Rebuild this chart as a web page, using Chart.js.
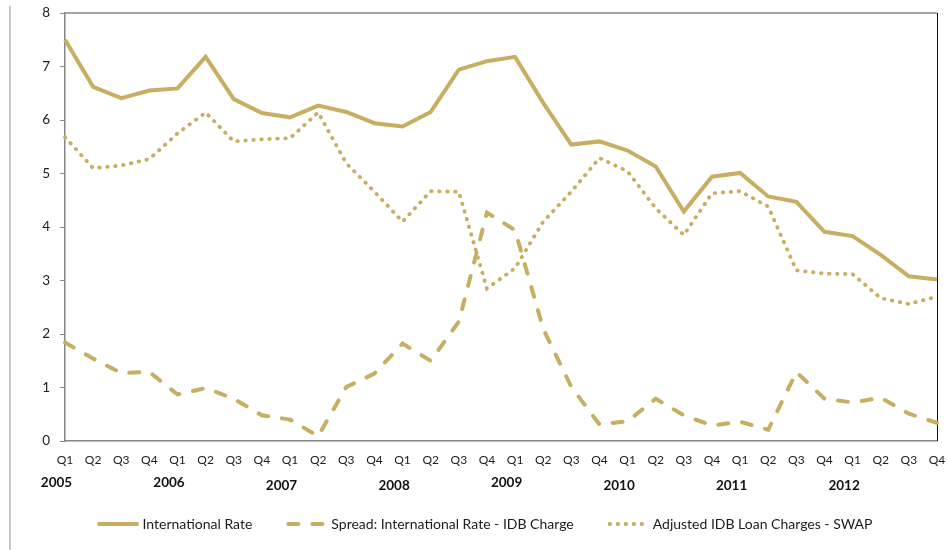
<!DOCTYPE html>
<html>
<head>
<meta charset="utf-8">
<script src="https://cdn.jsdelivr.net/npm/chart.js@4.4.1/dist/chart.umd.min.js"></script>
<style>
  html, body { margin: 0; padding: 0; background: #ffffff; }
  canvas { display: block; }
</style>
</head>
<body>
<canvas id="rates" width="947" height="550"></canvas>
<script>
// Quarterly rates, 2005 Q1 – 2012 Q4 (percent)
const years = ['2005', '2006', '2007', '2008', '2009', '2010', '2011', '2012'];
const quarterNames = ['Q1', 'Q2', 'Q3', 'Q4'];

const internationalRate = [
  7.50, 6.62, 6.41, 6.55, 6.59, 7.18, 6.39, 6.13,
  6.05, 6.27, 6.15, 5.94, 5.88, 6.15, 6.94, 7.10,
  7.18, 6.32, 5.54, 5.60, 5.43, 5.13, 4.29, 4.94,
  5.01, 4.57, 4.47, 3.91, 3.83, 3.48, 3.08, 3.02
];
const spreadIntlIdb = [
  1.84, 1.54, 1.27, 1.29, 0.87, 0.99, 0.79, 0.48,
  0.40, 0.09, 1.01, 1.26, 1.82, 1.50, 2.23, 4.27,
  3.94, 2.10, 1.01, 0.31, 0.37, 0.79, 0.48, 0.29,
  0.36, 0.21, 1.29, 0.79, 0.72, 0.81, 0.51, 0.34
];
const adjustedIdbSwap = [
  5.68, 5.10, 5.15, 5.27, 5.75, 6.14, 5.60, 5.64,
  5.66, 6.14, 5.19, 4.66, 4.10, 4.67, 4.66, 2.85,
  3.23, 4.10, 4.66, 5.29, 5.04, 4.35, 3.85, 4.63,
  4.67, 4.38, 3.19, 3.13, 3.12, 2.67, 2.56, 2.70
];
const seriesNames = [
  'International Rate',
  'Spread: International Rate - IDB Charge',
  'Adjusted IDB Loan Charges - SWAP'
];
const yMin = 0, yMax = 8, yStep = 1;

const categories = years.flatMap(() => quarterNames);

const GOLD = '#C8AE62';
const TEXT = '#1c1c1c';
const AXIS = '#868686';
const FONT = 'Lato, "Open Sans", sans-serif';

// Page frame line on the left and the top/right edges of the plot box
const frame = {
  id: 'frame',
  beforeDraw(chart) {
    const ctx = chart.ctx;
    ctx.save();
    ctx.strokeStyle = '#c6c6c6';
    ctx.lineWidth = 2;
    ctx.beginPath();
    ctx.moveTo(10, 6);
    ctx.lineTo(10, 550);
    ctx.stroke();
    ctx.restore();
  },
  beforeDatasetsDraw(chart) {
    const { ctx, chartArea: a } = chart;
    ctx.save();
    ctx.lineWidth = 1.5;
    ctx.strokeStyle = AXIS;
    ctx.beginPath();
    ctx.moveTo(a.left, a.top);
    ctx.lineTo(a.right, a.top);
    ctx.stroke();
    ctx.lineWidth = 1;
    ctx.strokeStyle = '#111111';
    ctx.beginPath();
    ctx.moveTo(a.right + 0.5, a.top);
    ctx.lineTo(a.right + 0.5, a.bottom);
    ctx.stroke();
    ctx.restore();
  }
};

// Year captions under the quarter labels
const yearCaptions = {
  id: 'yearCaptions',
  afterDraw(chart) {
    const { ctx, chartArea: a } = chart;
    const xs = chart.scales.x;
    const nudge = [42, 41.5, 45, 44.5, 41.5, 45, 45, 44.5];
    ctx.save();
    ctx.font = 'bold 13.5px ' + FONT;
    ctx.fillStyle = '#111111';
    ctx.textAlign = 'center';
    ctx.textBaseline = 'middle';
    years.forEach((yr, i) => {
      const x = xs.getPixelForValue(i * quarterNames.length) - 8.5;
      ctx.fillText(yr, x, a.bottom + nudge[i]);
    });
    ctx.restore();
  }
};

// Legend row with line samples taken from each dataset's style
const lineLegend = {
  id: 'lineLegend',
  afterDraw(chart) {
    const ctx = chart.ctx;
    const sampleW = 41, textGap = 4, itemGap = 34, y = 524, centerX = 485;
    ctx.save();
    ctx.font = '14px ' + FONT;
    const items = chart.data.datasets.map(ds => ({
      ds, w: sampleW + textGap + ctx.measureText(ds.label).width
    }));
    const total = items.reduce((s, it) => s + it.w, 0) + itemGap * (items.length - 1);
    let x = centerX - total / 2;
    items.forEach(({ ds, w }) => {
      ctx.save();
      ctx.strokeStyle = ds.borderColor;
      ctx.lineWidth = ds.borderWidth;
      ctx.lineCap = ds.borderCapStyle || 'butt';
      ctx.setLineDash(ds.borderDash || []);
      const inset = ctx.lineCap === 'round' ? ds.borderWidth / 2 : 0;
      ctx.beginPath();
      ctx.moveTo(x + inset, y);
      ctx.lineTo(x + sampleW - inset, y);
      ctx.stroke();
      ctx.restore();
      ctx.fillStyle = TEXT;
      ctx.textAlign = 'left';
      ctx.textBaseline = 'middle';
      ctx.fillText(ds.label, x + sampleW + textGap, y);
      x += w + itemGap;
    });
    ctx.restore();
  }
};

// Let the layout padding alone decide where the plot box sits
function noScalePadding(scale) {
  scale.paddingLeft = 0;
  scale.paddingRight = 0;
  scale.paddingTop = 0;
  scale.paddingBottom = 0;
}

const lineStyle = {
  borderColor: GOLD,
  backgroundColor: GOLD,
  borderWidth: 4,
  pointRadius: 0,
  pointHoverRadius: 0,
  tension: 0,
  fill: false
};

new Chart(document.getElementById('rates'), {
  type: 'line',
  data: {
    labels: categories,
    datasets: [
      { ...lineStyle, label: seriesNames[0], data: internationalRate, borderCapStyle: 'butt' },
      { ...lineStyle, label: seriesNames[1], data: spreadIntlIdb, borderDash: [10, 14], borderCapStyle: 'round' },
      { ...lineStyle, label: seriesNames[2], data: adjustedIdbSwap, borderDash: [0.5, 7.5], borderCapStyle: 'round', borderWidth: 3.8 }
    ]
  },
  options: {
    responsive: false,
    animation: false,
    events: [],
    layout: { padding: { left: 0, right: 10, top: 13, bottom: 49 } },
    plugins: {
      legend: { display: false },
      tooltip: { enabled: false },
      title: { display: false }
    },
    scales: {
      x: {
        type: 'category',
        offset: false,
        grid: { display: true, drawOnChartArea: false, drawTicks: false, color: AXIS },
        border: { display: true, color: AXIS, width: 1.5 },
        ticks: {
          autoSkip: false, maxRotation: 0, minRotation: 0, padding: 12,
          color: TEXT, font: { family: FONT, size: 12 }
        },
        afterFit(scale) { scale.height = 60; noScalePadding(scale); }
      },
      y: {
        min: yMin, max: yMax,
        grid: { display: true, drawOnChartArea: false, drawTicks: true, tickLength: 5, color: AXIS, lineWidth: 1 },
        border: { display: true, color: AXIS, width: 1.5 },
        ticks: {
          stepSize: yStep, padding: 10,
          color: TEXT, font: { family: FONT, size: 13.5 }
        },
        afterFit(scale) { scale.width = 65; noScalePadding(scale); }
      }
    }
  },
  plugins: [frame, yearCaptions, lineLegend]
});
</script>
</body>
</html>
